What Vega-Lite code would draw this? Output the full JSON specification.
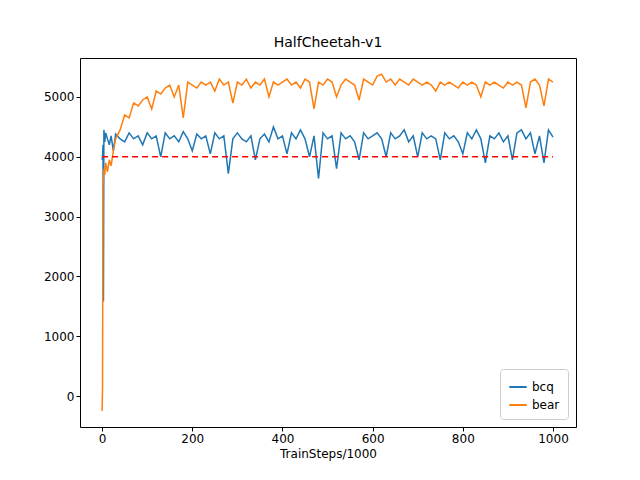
{
  "$schema": "https://vega.github.io/schema/vega-lite/v6.json",
  "width": 496,
  "height": 369,
  "autosize": {"type": "none"},
  "padding": {"left": 80, "top": 58, "right": 64, "bottom": 53},
  "background": "white",
  "title": {"text": "HalfCheetah-v1", "fontSize": 14, "fontWeight": "normal", "font": "DejaVu Sans", "offset": 8},
  "config": {
    "view": {"stroke": "black", "strokeWidth": 1},
    "axis": {"grid": false, "domain": false, "format": "d", "tickColor": "black", "tickSize": 4, "labelFont": "DejaVu Sans", "labelFontSize": 12, "labelColor": "black", "titleFont": "DejaVu Sans", "titleFontSize": 12, "titleFontWeight": "normal", "titleColor": "black"}
  },
  "layer": [
    {
      "data": {"values": [
        {"x":0,"bcq":3950,"bear":-250},{"x":1,"bcq":4000,"bear":150},{"x":2,"bcq":4200,"bear":3500},{"x":3,"bcq":1580,"bear":3600},
        {"x":4,"bcq":4450,"bear":3800},{"x":6,"bcq":4250,"bear":3700},{"x":8,"bcq":4400,"bear":3900},{"x":12,"bcq":4300,"bear":3750},
        {"x":16,"bcq":4200,"bear":3950},{"x":20,"bcq":4350,"bear":3850},{"x":25,"bcq":4100,"bear":4100},{"x":30,"bcq":4380,"bear":4300},
        {"x":40,"bcq":4300,"bear":4450},{"x":50,"bcq":4250,"bear":4700},{"x":60,"bcq":4400,"bear":4650},{"x":70,"bcq":4300,"bear":4900},
        {"x":80,"bcq":4350,"bear":4850},{"x":90,"bcq":4200,"bear":4950},{"x":100,"bcq":4400,"bear":5000},{"x":110,"bcq":4300,"bear":4800},
        {"x":120,"bcq":4350,"bear":5100},{"x":130,"bcq":4000,"bear":5050},{"x":140,"bcq":4400,"bear":5150},{"x":150,"bcq":4300,"bear":5200},
        {"x":160,"bcq":4350,"bear":5000},{"x":170,"bcq":4250,"bear":5200},{"x":180,"bcq":4420,"bear":4650},{"x":190,"bcq":4300,"bear":5250},
        {"x":200,"bcq":4100,"bear":5200},{"x":210,"bcq":4380,"bear":5150},{"x":220,"bcq":4300,"bear":5250},{"x":230,"bcq":4350,"bear":5200},
        {"x":240,"bcq":4050,"bear":5250},{"x":250,"bcq":4400,"bear":5100},{"x":260,"bcq":4300,"bear":5300},{"x":270,"bcq":4350,"bear":5200},
        {"x":280,"bcq":3720,"bear":5250},{"x":290,"bcq":4300,"bear":4900},{"x":300,"bcq":4400,"bear":5250},{"x":310,"bcq":4300,"bear":5200},
        {"x":320,"bcq":4250,"bear":5300},{"x":330,"bcq":4350,"bear":5150},{"x":340,"bcq":3950,"bear":5250},{"x":350,"bcq":4300,"bear":5200},
        {"x":360,"bcq":4380,"bear":5300},{"x":370,"bcq":4250,"bear":5000},{"x":380,"bcq":4500,"bear":5250},{"x":390,"bcq":4300,"bear":5200},
        {"x":400,"bcq":4350,"bear":5250},{"x":410,"bcq":4050,"bear":5300},{"x":420,"bcq":4400,"bear":5200},{"x":430,"bcq":4300,"bear":5250},
        {"x":440,"bcq":4450,"bear":5150},{"x":450,"bcq":4300,"bear":5300},{"x":460,"bcq":4000,"bear":5250},{"x":470,"bcq":4350,"bear":4800},
        {"x":480,"bcq":3640,"bear":5250},{"x":490,"bcq":4400,"bear":5200},{"x":500,"bcq":4300,"bear":5300},{"x":510,"bcq":4350,"bear":5250},
        {"x":520,"bcq":3800,"bear":5000},{"x":530,"bcq":4400,"bear":5200},{"x":540,"bcq":4300,"bear":5300},{"x":550,"bcq":4350,"bear":5250},
        {"x":560,"bcq":4250,"bear":5200},{"x":570,"bcq":3950,"bear":4950},{"x":580,"bcq":4400,"bear":5300},{"x":590,"bcq":4300,"bear":5250},
        {"x":600,"bcq":4350,"bear":5200},{"x":610,"bcq":4400,"bear":5350},{"x":620,"bcq":4300,"bear":5380},{"x":630,"bcq":4000,"bear":5250},
        {"x":640,"bcq":4400,"bear":5300},{"x":650,"bcq":4300,"bear":5200},{"x":660,"bcq":4350,"bear":5300},{"x":670,"bcq":4450,"bear":5250},
        {"x":680,"bcq":4250,"bear":5200},{"x":690,"bcq":4350,"bear":5300},{"x":700,"bcq":4000,"bear":5250},{"x":710,"bcq":4400,"bear":5200},
        {"x":720,"bcq":4300,"bear":5250},{"x":730,"bcq":4350,"bear":5200},{"x":740,"bcq":4300,"bear":5100},{"x":750,"bcq":3950,"bear":5250},
        {"x":760,"bcq":4400,"bear":5200},{"x":770,"bcq":4300,"bear":5250},{"x":780,"bcq":4350,"bear":5200},{"x":790,"bcq":4250,"bear":5150},
        {"x":800,"bcq":4050,"bear":5250},{"x":810,"bcq":4400,"bear":5200},{"x":820,"bcq":4300,"bear":5250},{"x":830,"bcq":4450,"bear":5200},
        {"x":840,"bcq":4300,"bear":5000},{"x":850,"bcq":3900,"bear":5250},{"x":860,"bcq":4350,"bear":5200},{"x":870,"bcq":4300,"bear":5250},
        {"x":880,"bcq":4400,"bear":5200},{"x":890,"bcq":4250,"bear":5150},{"x":900,"bcq":4350,"bear":5250},{"x":910,"bcq":3950,"bear":5200},
        {"x":920,"bcq":4400,"bear":5250},{"x":930,"bcq":4450,"bear":5200},{"x":940,"bcq":4300,"bear":4820},{"x":950,"bcq":4400,"bear":5250},
        {"x":960,"bcq":4050,"bear":5300},{"x":970,"bcq":4350,"bear":5200},{"x":980,"bcq":3900,"bear":4850},{"x":990,"bcq":4450,"bear":5300},
        {"x":1000,"bcq":4330,"bear":5250}
      ]},
      "transform": [{"fold": ["bcq", "bear"], "as": ["series", "value"]}],
      "mark": {"type": "line", "strokeWidth": 1.5, "clip": true},
      "encoding": {
        "x": {"field": "x", "type": "quantitative", "title": "TrainSteps/1000", "scale": {"domain": [-49, 1051], "nice": false, "zero": false}, "axis": {"values": [0, 200, 400, 600, 800, 1000]}},
        "y": {"field": "value", "type": "quantitative", "title": null, "scale": {"domain": [-518, 5652], "nice": false, "zero": false}, "axis": {"values": [0, 1000, 2000, 3000, 4000, 5000]}},
        "color": {"field": "series", "type": "nominal", "sort": ["bcq", "bear"], "scale": {"domain": ["bcq", "bear"], "range": ["#1f77b4", "#ff7f0e"]},
          "legend": {"title": null, "orient": "bottom-right", "symbolType": "stroke", "symbolStrokeWidth": 2, "symbolSize": 300, "labelFont": "DejaVu Sans", "labelFontSize": 12, "strokeColor": "#cccccc", "fillColor": "white", "padding": 8, "cornerRadius": 3, "offset": 8}},
        "detail": {"field": "series"}
      }
    },
    {
      "data": {"values": [{"x": 0, "v": 4000}, {"x": 1000, "v": 4000}]},
      "mark": {"type": "line", "color": "red", "strokeDash": [6, 4], "strokeWidth": 1.5},
      "encoding": {
        "x": {"field": "x", "type": "quantitative"},
        "y": {"field": "v", "type": "quantitative"}
      }
    }
  ]
}
